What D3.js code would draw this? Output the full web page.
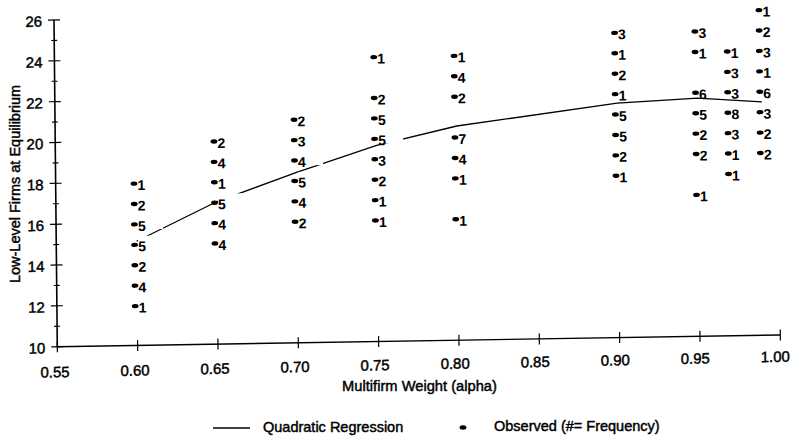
<!DOCTYPE html>
<html>
<head>
<meta charset="utf-8">
<script src="https://cdn.jsdelivr.net/npm/d3@7"></script>
<style>
  html, body { margin: 0; padding: 0; background: #fff; }
  svg text { font-family: "Liberation Sans", Arial, sans-serif; fill: #000; }
  svg text.heavy { stroke: #000; stroke-width: 0.45px; }
</style>
</head>
<body>
<svg id="chart" width="799" height="438"></svg>
<script>
// observed alpha levels (one column of dots per level)
var alphaLevels = [0.60, 0.65, 0.70, 0.75, 0.80, 0.90, 0.95, 0.97, 0.99];

// low-level firms at equilibrium, per alpha level
var firmsObserved = [
    [18, 17, 16, 15, 14, 13, 12],
    [20, 19, 18, 17, 16, 15],
    [21, 20, 19, 18, 17, 16],
    [24, 22, 21, 20, 19, 18, 17, 16],
    [24, 23, 22, 20, 19, 18, 16],
    [25, 24, 23, 22, 21, 20, 19, 18],
    [25, 24, 22, 21, 20, 19, 17],
    [24, 23, 22, 21, 20, 19, 18],
    [26, 25, 24, 23, 22, 21, 20, 19]
];

// frequency printed next to each dot
var frequency = [
    [1, 2, 5, 5, 2, 4, 1],
    [2, 4, 1, 5, 4, 4],
    [2, 3, 4, 5, 4, 2],
    [1, 2, 5, 5, 3, 2, 1, 1],
    [1, 4, 2, 7, 4, 1, 1],
    [3, 1, 2, 1, 5, 5, 2, 1],
    [3, 1, 6, 5, 2, 2, 1],
    [1, 3, 3, 8, 3, 1, 1],
    [1, 2, 3, 1, 6, 3, 2, 2]
];

// quadratic regression line
var fitAlpha = [0.60, 0.65, 0.70, 0.75, 0.80, 0.90, 0.95, 0.99];
var fitFirms = [15.1, 16.97, 18.35, 19.6, 20.49, 21.48, 21.66, 21.43];

var xTicks = [0.55, 0.60, 0.65, 0.70, 0.75, 0.80, 0.85, 0.90, 0.95, 1.00];
var yTicks = [10, 12, 14, 16, 18, 20, 22, 24, 26];
var yMinorTicks = [11, 13, 15, 17, 19, 21, 23, 25];

var svg = d3.select("#chart");
svg.append("rect").attr("width", 799).attr("height", 438).attr("fill", "#fff");

var plotW = 723, plotH = 326.7;
var x = d3.scaleLinear().domain([0.55, 1.00]).range([0, plotW]);
var y = d3.scaleLinear().domain([10, 26]).range([0, -plotH]);

// the scanned figure is slightly skewed, so the plot frame is too
var plot = svg.append("g")
    .attr("transform", "matrix(1,-0.0162,0.0101,1,57.3,346.7)");

//Axes
plot.append("line")
    .attr("x1", 0).attr("x2", 0)
    .attr("y1", y(10)).attr("y2", y(26))
    .attr("stroke", "#000").attr("stroke-width", 1.6);
plot.append("line")
    .attr("x1", x(0.55)).attr("x2", x(1.00))
    .attr("y1", 0).attr("y2", 0)
    .attr("stroke", "#000").attr("stroke-width", 1.4);

plot.selectAll(".ymajor")
    .data(yTicks)
    .enter().append("line")
    .attr("x1", -6).attr("x2", 6)
    .attr("y1", function (d) { return y(d); })
    .attr("y2", function (d) { return y(d); })
    .attr("stroke", "#000").attr("stroke-width", 1.2);

plot.selectAll(".yminor")
    .data(yMinorTicks)
    .enter().append("line")
    .attr("x1", -3).attr("x2", 3)
    .attr("y1", function (d) { return y(d); })
    .attr("y2", function (d) { return y(d); })
    .attr("stroke", "#000").attr("stroke-width", 1.1);

plot.selectAll(".ylab")
    .data(yTicks)
    .enter().append("text")
    .attr("class", "heavy")
    .attr("x", -12)
    .attr("y", function (d) { return y(d) + 6.5; })
    .attr("text-anchor", "end")
    .style("font-size", "15px")
    .text(function (d) { return d; });

plot.selectAll(".xtick")
    .data(xTicks)
    .enter().append("line")
    .attr("x1", function (d) { return x(d); })
    .attr("x2", function (d) { return x(d); })
    .attr("y1", -5.5).attr("y2", 5.5)
    .attr("stroke", "#000").attr("stroke-width", 1.2);

// tick labels sit on a slightly steeper slope than the axis
svg.append("g")
    .attr("transform", "matrix(0.9963,-0.0212,0,1,55,377.3)")
    .selectAll("text")
    .data(xTicks)
    .enter().append("text")
    .attr("class", "heavy")
    .attr("x", function (d) { return x(d); })
    .attr("y", 0)
    .attr("text-anchor", "middle")
    .style("font-size", "15px")
    .text(function (d) { return d3.format(".2f")(d); });

//Regression line
var line = d3.line()
    .x(function (d) { return x(d[0]); })
    .y(function (d) { return y(d[1]); });

plot.append("path")
    .datum(d3.zip(fitAlpha, fitFirms))
    .attr("d", line)
    .attr("fill", "none")
    .attr("stroke", "#000")
    .attr("stroke-width", 1.3);

//Observed points
var points = [];
alphaLevels.forEach(function (a, i) {
    firmsObserved[i].forEach(function (f, j) {
        points.push({ alpha: a, firms: f, freq: frequency[i][j] });
    });
});

var pt = plot.selectAll(".pt")
    .data(points)
    .enter().append("g")
    .attr("transform", function (d) {
        return "translate(" + x(d.alpha) + "," + (y(d.firms) + 1.5) + ")";
    });

// white patch behind the label, it breaks the regression line like the original
pt.append("rect")
    .attr("x", 1.5).attr("y", -9)
    .attr("width", 25).attr("height", 14)
    .attr("fill", "#fff");

pt.append("ellipse")
    .attr("cx", -2).attr("cy", 0)
    .attr("rx", 3.4).attr("ry", 2.2)
    .attr("fill", "#000");

pt.append("text")
    .attr("x", 1.5).attr("y", 6.5)
    .style("font-size", "14px")
    .style("font-weight", "bold")
    .text(function (d) { return d.freq; });

//Axis titles
svg.append("text")
    .attr("class", "heavy")
    .attr("x", 419.5).attr("y", 391)
    .attr("text-anchor", "middle")
    .style("font-size", "14.7px")
    .text("Multifirm Weight (alpha)");

svg.append("text")
    .attr("class", "heavy")
    .attr("transform", "translate(20,184) rotate(-90)")
    .attr("text-anchor", "middle")
    .style("font-size", "14.5px")
    .text("Low-Level Firms at Equilibrium");

//Legend
var legend = svg.append("g");
legend.append("line")
    .attr("x1", 213).attr("x2", 250)
    .attr("y1", 428).attr("y2", 428)
    .attr("stroke", "#000").attr("stroke-width", 1.3);
legend.append("text")
    .attr("class", "heavy")
    .attr("x", 263).attr("y", 432)
    .style("font-size", "14.5px")
    .text("Quadratic Regression");
legend.append("ellipse")
    .attr("cx", 463).attr("cy", 427.5)
    .attr("rx", 3.4).attr("ry", 2.2)
    .attr("fill", "#000");
legend.append("text")
    .attr("class", "heavy")
    .attr("x", 494).attr("y", 431)
    .style("font-size", "14.5px")
    .text("Observed (#= Frequency)");
</script>
</body>
</html>
